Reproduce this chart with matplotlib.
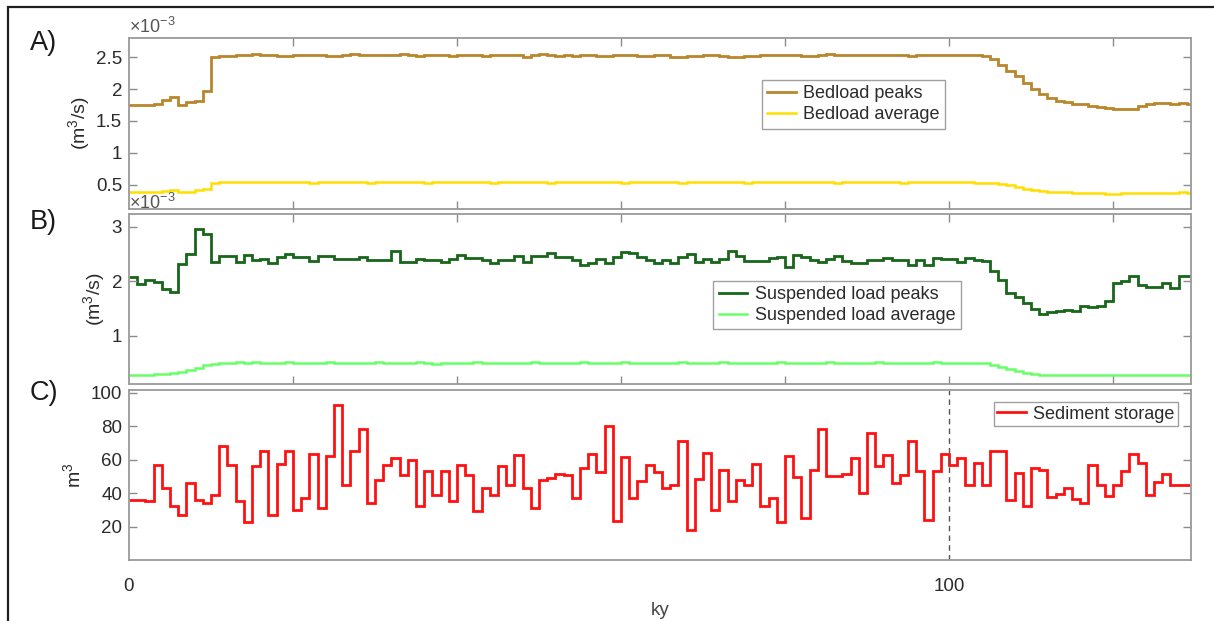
import numpy as np
import matplotlib.pyplot as plt
from matplotlib.patches import Rectangle

plt.rcParams['font.family'] = ['Liberation Sans', 'DejaVu Sans']
plt.rcParams['mathtext.fontset'] = 'custom'
plt.rcParams['mathtext.rm'] = 'Liberation Sans'
plt.rcParams['mathtext.it'] = 'Liberation Sans:italic'

# 1-ky bins, values in 1e-3 m3/s for A and B, m3 for C
bed_peaks = [1.75, 1.75, 1.75, 1.76, 1.83, 1.88, 1.75, 1.79, 1.82, 1.97,
             2.50, 2.52, 2.52, 2.53, 2.54, 2.55, 2.53, 2.53, 2.52, 2.52,
             2.54, 2.54, 2.53, 2.53, 2.52, 2.52, 2.54, 2.55, 2.54, 2.54,
             2.53, 2.53, 2.54, 2.55, 2.54, 2.52, 2.53, 2.54, 2.54, 2.52,
             2.53, 2.54, 2.54, 2.52, 2.53, 2.54, 2.54, 2.53, 2.51, 2.54,
             2.55, 2.53, 2.52, 2.53, 2.52, 2.54, 2.54, 2.52, 2.52, 2.53,
             2.53, 2.53, 2.52, 2.52, 2.53, 2.53, 2.50, 2.51, 2.52, 2.52,
             2.53, 2.54, 2.52, 2.51, 2.51, 2.52, 2.52, 2.54, 2.54, 2.53,
             2.53, 2.54, 2.52, 2.52, 2.54, 2.55, 2.53, 2.53, 2.54, 2.54,
             2.53, 2.53, 2.53, 2.54, 2.53, 2.52, 2.54, 2.54, 2.53, 2.53,
             2.53, 2.53, 2.54, 2.54, 2.52, 2.47, 2.38, 2.28, 2.20, 2.09,
             2.00, 1.92, 1.86, 1.81, 1.79, 1.77, 1.76, 1.74, 1.72, 1.70,
             1.68, 1.69, 1.68, 1.74, 1.77, 1.78, 1.78, 1.77, 1.78, 1.76]

bed_avg = [0.38, 0.38, 0.38, 0.38, 0.40, 0.41, 0.38, 0.39, 0.41, 0.43,
           0.53, 0.54, 0.55, 0.55, 0.54, 0.54, 0.54, 0.55, 0.54, 0.54,
           0.54, 0.54, 0.53, 0.54, 0.54, 0.55, 0.55, 0.54, 0.54, 0.53,
           0.54, 0.54, 0.54, 0.55, 0.54, 0.54, 0.53, 0.54, 0.55, 0.54,
           0.54, 0.54, 0.55, 0.54, 0.53, 0.54, 0.54, 0.55, 0.54, 0.54,
           0.54, 0.53, 0.54, 0.54, 0.55, 0.55, 0.54, 0.54, 0.54, 0.54,
           0.53, 0.54, 0.54, 0.54, 0.55, 0.54, 0.54, 0.53, 0.54, 0.54,
           0.54, 0.55, 0.54, 0.54, 0.54, 0.53, 0.54, 0.54, 0.55, 0.54,
           0.54, 0.54, 0.54, 0.55, 0.54, 0.54, 0.53, 0.54, 0.54, 0.54,
           0.55, 0.54, 0.54, 0.54, 0.53, 0.54, 0.54, 0.55, 0.54, 0.54,
           0.54, 0.54, 0.54, 0.53, 0.53, 0.53, 0.51, 0.49, 0.46, 0.44,
           0.42, 0.40, 0.39, 0.385, 0.38, 0.375, 0.37, 0.365, 0.365, 0.36,
           0.36, 0.365, 0.365, 0.37, 0.375, 0.375, 0.375, 0.375, 0.38, 0.375]

sus_peaks = [2.07, 1.95, 2.02, 1.99, 1.86, 1.80, 2.32, 2.49, 2.95, 2.86,
             2.35, 2.47, 2.47, 2.35, 2.48, 2.39, 2.40, 2.34, 2.45, 2.50,
             2.44, 2.44, 2.37, 2.47, 2.47, 2.41, 2.41, 2.41, 2.44, 2.39,
             2.39, 2.39, 2.56, 2.36, 2.36, 2.41, 2.39, 2.39, 2.36, 2.40,
             2.48, 2.42, 2.42, 2.38, 2.34, 2.39, 2.39, 2.46, 2.36, 2.46,
             2.46, 2.51, 2.44, 2.44, 2.39, 2.30, 2.33, 2.40, 2.33, 2.45,
             2.53, 2.51, 2.45, 2.39, 2.34, 2.39, 2.34, 2.44, 2.49, 2.36,
             2.40, 2.36, 2.40, 2.56, 2.46, 2.37, 2.37, 2.37, 2.42, 2.44,
             2.26, 2.48, 2.45, 2.39, 2.36, 2.40, 2.47, 2.37, 2.34, 2.34,
             2.38, 2.38, 2.42, 2.38, 2.38, 2.30, 2.38, 2.30, 2.42, 2.40,
             2.40, 2.36, 2.43, 2.38, 2.37, 2.18, 2.02, 1.78, 1.71, 1.60,
             1.49, 1.40, 1.43, 1.45, 1.48, 1.45, 1.54, 1.52, 1.55, 1.64,
             1.96, 2.01, 2.09, 1.93, 1.90, 1.90, 1.96, 1.87, 2.09, 2.09]

sus_avg = [0.29, 0.29, 0.29, 0.30, 0.31, 0.32, 0.34, 0.38, 0.42, 0.46,
           0.49, 0.51, 0.51, 0.52, 0.51, 0.52, 0.51, 0.50, 0.51, 0.52,
           0.51, 0.51, 0.50, 0.51, 0.52, 0.51, 0.51, 0.50, 0.51, 0.51,
           0.52, 0.51, 0.50, 0.51, 0.51, 0.52, 0.51, 0.49, 0.51, 0.51,
           0.50, 0.51, 0.52, 0.51, 0.51, 0.50, 0.51, 0.51, 0.51, 0.52,
           0.51, 0.50, 0.50, 0.51, 0.51, 0.52, 0.51, 0.51, 0.50, 0.51,
           0.52, 0.51, 0.51, 0.50, 0.51, 0.51, 0.51, 0.52, 0.51, 0.50,
           0.51, 0.51, 0.52, 0.51, 0.50, 0.51, 0.51, 0.50, 0.51, 0.52,
           0.51, 0.51, 0.50, 0.51, 0.51, 0.52, 0.51, 0.51, 0.50, 0.51,
           0.51, 0.52, 0.51, 0.51, 0.50, 0.51, 0.51, 0.51, 0.52, 0.51,
           0.51, 0.50, 0.51, 0.51, 0.50, 0.47, 0.43, 0.39, 0.35, 0.32,
           0.30, 0.29, 0.28, 0.28, 0.28, 0.28, 0.28, 0.28, 0.28, 0.28,
           0.29, 0.29, 0.29, 0.29, 0.29, 0.28, 0.28, 0.28, 0.28, 0.28]

storage = [36, 36, 35, 57, 43, 32, 27, 46, 36, 34,
           39, 68, 57, 35, 22.5, 56, 65, 27, 57.5, 65,
           30, 37, 63, 31, 62, 92.5, 45, 65, 78, 34,
           48, 57, 61, 51, 60, 32, 53, 39, 53, 35,
           56.5, 51, 29, 43, 39, 56, 45, 62.5, 43, 31,
           47.5, 49, 51.5, 51, 37, 55, 63, 52.5, 80, 23,
           61.5, 37, 47, 56.5, 52.5, 43, 45, 71, 18, 48.5,
           64, 30, 53.5, 35, 47.5, 45, 57.5, 32, 37, 22.5,
           62, 49.5, 25, 54, 78, 50, 50, 51.5, 61, 40,
           76, 56, 62.5, 46, 50.5, 71, 53, 24, 53, 63,
           56.5, 61, 45, 58, 45, 65, 65, 36, 52, 32,
           55, 53.5, 37.5, 39.5, 43, 36.5, 34, 57, 45, 38,
           45, 53, 63.5, 58, 39, 46.5, 51.5, 45, 45, 45]

edges = np.arange(len(storage) + 1)

grey_edge = '#9a9a9a'
text_col = '#2b2b2b'
fs = 13.5

fig = plt.figure(figsize=(12.14, 6.21), dpi=100)

# outer frame
fig.patches.append(Rectangle((8 / 1214, -0.1), 1.2, 1.1 - 7 / 621,
                             transform=fig.transFigure, fill=False,
                             edgecolor='#202020', lw=1.6))

left, width = 129 / 1214, 1062 / 1214
ax_a = fig.add_axes([left, 1 - 209 / 621, width, 171 / 621])
ax_b = fig.add_axes([left, 1 - 384 / 621, width, 170 / 621])
ax_c = fig.add_axes([left, 1 - 560 / 621, width, 170 / 621])


def style(ax):
    for s in ax.spines.values():
        s.set_color(grey_edge)
        s.set_linewidth(1.3)
    ax.tick_params(direction='in', top=True, right=True, length=6,
                   width=1.0, color='#8c8c8c', labelcolor=text_col,
                   labelsize=fs, pad=5)
    ax.set_xlim(0, 129.5)


leg_kw = dict(borderaxespad=0, fancybox=False, edgecolor='#a0a0a0',
              fontsize=13, handlelength=1.6, handletextpad=0.4,
              labelspacing=0.2, framealpha=1, labelcolor=text_col)

ax_a.stairs(bed_peaks, edges, color='#b8862b', lw=2.0, baseline=None,
            label='Bedload peaks')
ax_a.stairs(bed_avg, edges, color='#ffdf00', lw=1.8, baseline=None,
            label='Bedload average')
style(ax_a)
ax_a.set_ylim(0.12, 2.8)
ax_a.set_yticks([0.5, 1, 1.5, 2, 2.5])
ax_a.set_yticklabels(['0.5', '1', '1.5', '2', '2.5'])
ax_a.set_xticks([20, 40, 60, 80, 100, 120])
ax_a.tick_params(labelbottom=False)
ax_a.set_ylabel('(m$^3$/s)', fontsize=14, color=text_col, labelpad=3)
ax_a.text(0.0, 1.005, r'$\times10^{-3}$', transform=ax_a.transAxes,
          fontsize=13, color='#555555', va='bottom', ha='left')
ax_a.legend(loc='upper left', bbox_to_anchor=(0.596, 0.754),
            borderpad=0.3, **leg_kw)

ax_b.stairs(sus_peaks, edges, color='#17661a', lw=2.0, baseline=None,
            label='Suspended load peaks')
ax_b.stairs(sus_avg, edges, color='#66ff66', lw=1.8, baseline=None,
            label='Suspended load average')
style(ax_b)
ax_b.set_ylim(0.12, 3.23)
ax_b.set_yticks([1, 2, 3])
ax_b.set_xticks([20, 40, 60, 80, 100, 120])
ax_b.tick_params(labelbottom=False)
ax_b.set_ylabel('(m$^3$/s)', fontsize=14, color=text_col, labelpad=3)
ax_b.text(0.0, 1.005, r'$\times10^{-3}$', transform=ax_b.transAxes,
          fontsize=13, color='#555555', va='bottom', ha='left')
ax_b.legend(loc='upper left', bbox_to_anchor=(0.55, 0.606),
            borderpad=0.3, **leg_kw)

ax_c.stairs(storage, edges, color='#ff1010', lw=2.0, baseline=None,
            label='Sediment storage')
style(ax_c)
ax_c.axvline(100, color='#555555', lw=1.0, ls=(0, (4, 3)))
ax_c.set_ylim(0, 101.5)
ax_c.set_yticks([20, 40, 60, 80, 100])
ax_c.set_xticks([0, 100])
ax_c.tick_params(axis='x', length=0, pad=13)
ax_c.set_ylabel('m$^3$', fontsize=14, color=text_col, labelpad=5)
ax_c.set_xlabel('ky', fontsize=fs, color='#444444', labelpad=5)
ax_c.legend(loc='upper right', bbox_to_anchor=(0.988, 0.929),
            borderpad=0.2, **leg_kw)

for lab, ypix in (('A)', 43), ('B)', 222), ('C)', 393)):
    fig.text(30 / 1214, 1 - ypix / 621, lab, fontsize=19.5, color='#1a1a1a',
             ha='left', va='center')

fig.savefig('out.png', dpi=100)
